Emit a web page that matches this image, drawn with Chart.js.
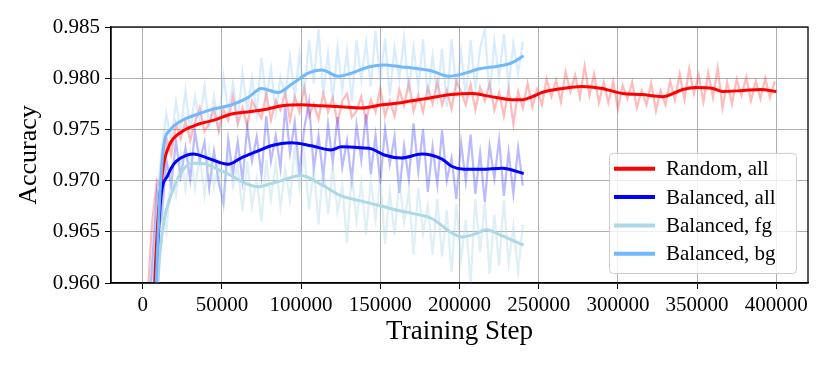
<!DOCTYPE html>
<html>
<head>
<meta charset="utf-8">
<script src="https://cdn.jsdelivr.net/npm/chart.js@4"></script>
<style>
  html, body { margin: 0; padding: 0; background: #fff; }
  #wrap { width: 830px; height: 366px; }
</style>
</head>
<body>
<div id="wrap"><canvas id="accChart" width="830" height="366"></canvas></div>
<script>
// axis ticks
var xTicks = [0, 50000, 100000, 150000, 200000, 250000, 300000, 350000, 400000];
var yTicks = [0.960, 0.965, 0.970, 0.975, 0.980, 0.985];

// raw (noisy) curves, one value every 3000 steps
var rawStep = 3000;
var redRaw = [0.944, 0.9585, 0.9660, 0.9700, 0.9690, 0.9742, 0.9725, 0.9756, 0.9741, 0.9758,
    0.9739, 0.9757, 0.9771, 0.9748, 0.9756, 0.9770, 0.9748, 0.9770, 0.9759, 0.9783,
    0.9755, 0.9771, 0.9753, 0.9778, 0.9769, 0.9761, 0.9785, 0.9759, 0.9778, 0.9769,
    0.9786, 0.9759, 0.9782, 0.9767, 0.9791, 0.9763, 0.9775, 0.9760, 0.9785, 0.9767,
    0.9781, 0.9756, 0.9778, 0.9785, 0.9762, 0.9768, 0.9782, 0.9758, 0.9779, 0.9767,
    0.9790, 0.9763, 0.9778, 0.9763, 0.9789, 0.9773, 0.9796, 0.9768, 0.9784, 0.9767,
    0.9791, 0.9775, 0.9797, 0.9774, 0.9788, 0.9770, 0.9797, 0.9787, 0.9774, 0.9794,
    0.9769, 0.9791, 0.9778, 0.9795, 0.9769, 0.9786, 0.9763, 0.9790, 0.9755, 0.9787,
    0.9771, 0.9795, 0.9772, 0.9789, 0.9774, 0.9799, 0.9782, 0.9798, 0.9777, 0.9806,
    0.9787, 0.9803, 0.9781, 0.9812, 0.9783, 0.9804, 0.9776, 0.9796, 0.9776, 0.9797,
    0.9770, 0.9793, 0.9780, 0.9796, 0.9771, 0.9788, 0.9774, 0.9795, 0.9768, 0.9788,
    0.9774, 0.9797, 0.9779, 0.9804, 0.9779, 0.9809, 0.9785, 0.9803, 0.9777, 0.9805,
    0.9781, 0.9810, 0.9771, 0.9796, 0.9775, 0.9799, 0.9783, 0.9801, 0.9778, 0.9797,
    0.9780, 0.9800, 0.9781, 0.9797];
var balAllRaw = [0.940, 0.9555, 0.9620, 0.9690, 0.9665, 0.9720, 0.9695, 0.9738, 0.9704, 0.9732,
    0.9701, 0.9748, 0.9719, 0.9738, 0.9693, 0.9729, 0.9698, 0.9678, 0.9740, 0.9706,
    0.9738, 0.9700, 0.9753, 0.9719, 0.9743, 0.9705, 0.9763, 0.9719, 0.9744, 0.9712,
    0.9772, 0.9727, 0.9757, 0.9706, 0.9751, 0.9777, 0.9711, 0.9744, 0.9703, 0.9755,
    0.9717, 0.9762, 0.9713, 0.9739, 0.9700, 0.9754, 0.9720, 0.9765, 0.9706, 0.9744,
    0.9697, 0.9751, 0.9716, 0.9743, 0.9688, 0.9734, 0.9701, 0.9756, 0.9709, 0.9750,
    0.9689, 0.9733, 0.9696, 0.9749, 0.9700, 0.9722, 0.9682, 0.9737, 0.9699, 0.9745,
    0.9687, 0.9727, 0.9679, 0.9734, 0.9702, 0.9740, 0.9685, 0.9728, 0.9687, 0.9732,
    0.9695];
var balFgRaw = [0.940, 0.9540, 0.9600, 0.9640, 0.9675, 0.9650, 0.9705, 0.9685, 0.9725, 0.9692,
    0.9728, 0.9692, 0.9725, 0.9686, 0.9730, 0.9694, 0.9716, 0.9676, 0.9726, 0.9694,
    0.9715, 0.9670, 0.9719, 0.9675, 0.9702, 0.9660, 0.9720, 0.9682, 0.9717, 0.9674,
    0.9711, 0.9681, 0.9734, 0.9693, 0.9726, 0.9672, 0.9713, 0.9657, 0.9715, 0.9667,
    0.9713, 0.9669, 0.9695, 0.9639, 0.9708, 0.9661, 0.9698, 0.9647, 0.9700, 0.9662,
    0.9703, 0.9638, 0.9689, 0.9647, 0.9700, 0.9660, 0.9689, 0.9628, 0.9693, 0.9648,
    0.9676, 0.9628, 0.9682, 0.9626, 0.9671, 0.9611, 0.9677, 0.9623, 0.9662, 0.9599,
    0.9682, 0.9630, 0.9678, 0.9609, 0.9667, 0.9617, 0.9681, 0.9619, 0.9655, 0.9611,
    0.9657];
var balBgRaw = [0.940, 0.9550, 0.9610, 0.9680, 0.9730, 0.9765, 0.9738, 0.9777, 0.9748, 0.9788,
    0.9748, 0.9782, 0.9757, 0.9792, 0.9753, 0.9782, 0.9751, 0.9802, 0.9767, 0.9795,
    0.9759, 0.9805, 0.9769, 0.9800, 0.9765, 0.9820, 0.9779, 0.9810, 0.9766, 0.9801,
    0.9782, 0.9821, 0.9781, 0.9824, 0.9783, 0.9837, 0.9795, 0.9848, 0.9784, 0.9824,
    0.9778, 0.9830, 0.9789, 0.9826, 0.9777, 0.9837, 0.9799, 0.9835, 0.9792, 0.9846,
    0.9797, 0.9839, 0.9783, 0.9830, 0.9799, 0.9839, 0.9786, 0.9830, 0.9791, 0.9838,
    0.9779, 0.9822, 0.9782, 0.9829, 0.9772, 0.9838, 0.9789, 0.9826, 0.9780, 0.9837,
    0.9790, 0.9829, 0.9848, 0.9783, 0.9836, 0.9800, 0.9843, 0.9792, 0.9834, 0.9805,
    0.9836];

// smoothed curves
var redSmoothSteps = [5000, 8000, 10000, 13000, 17000, 24000, 35000, 45000, 56000, 66000,
    79000, 88000, 100000, 113000, 125000, 138000, 151000, 163000, 170000, 182000,
    195000, 208000, 220000, 233000, 240000, 246000, 252000, 265000, 277000, 290000,
    303000, 315000, 328000, 341000, 349000, 360000, 366000, 379000, 390000, 400000];
var redSmooth = [0.950, 0.9615, 0.9670, 0.9714, 0.9735, 0.9747, 0.9755, 0.9759, 0.9765, 0.9767,
    0.9770, 0.9773, 0.9774, 0.9773, 0.9772, 0.9771, 0.9774, 0.9776, 0.9778, 0.9781,
    0.9784, 0.9785, 0.9782, 0.9779, 0.9779, 0.9782, 0.9786, 0.9790, 0.9792, 0.9790,
    0.9785, 0.9784, 0.9782, 0.9789, 0.9791, 0.9790, 0.9787, 0.9788, 0.9789, 0.9787];

var balAllSteps = [5000, 8500, 11400, 15800, 19600, 24000, 32000, 41000, 54000, 62000,
    73000, 81000, 94000, 106500, 119000, 125500, 138000, 144500, 152500, 163500,
    176000, 189000, 195000, 203000, 214000, 227000, 240500];
var balAllSmooth = [0.945, 0.9600, 0.9682, 0.9705, 0.9716, 0.9722, 0.9726, 0.9722, 0.9716, 0.9722,
    0.9729, 0.9734, 0.9737, 0.9734, 0.9730, 0.9733, 0.9732, 0.9731, 0.9725, 0.9722,
    0.9726, 0.9721, 0.9714, 0.9711, 0.9711, 0.9712, 0.9707];

var balFgSteps = [6000, 10000, 13300, 17700, 24000, 30400, 36700, 47500, 55700, 64000,
    73000, 81000, 87500, 100000, 113000, 125500, 138000, 151000, 163500, 170000,
    182500, 195000, 201500, 210000, 217000, 227000, 240500];
var balFgSmooth = [0.945, 0.9610, 0.9659, 0.9685, 0.9707, 0.9717, 0.9717, 0.9711, 0.9705, 0.9698,
    0.9694, 0.9697, 0.9700, 0.9705, 0.9696, 0.9685, 0.9680, 0.9675, 0.9670, 0.9668,
    0.9663, 0.9649, 0.9645, 0.9648, 0.9652, 0.9646, 0.9637];

var balBgSteps = [5000, 8500, 11000, 13300, 17700, 24000, 35000, 45000, 56000, 66500,
    75000, 85500, 94000, 104500, 113000, 123500, 132000, 142500, 152500, 163500,
    170000, 182500, 193000, 201500, 212000, 225000, 233000, 240500];
var balBgSmooth = [0.948, 0.9600, 0.9690, 0.9734, 0.9750, 0.9758, 0.9765, 0.9770, 0.9774, 0.9781,
    0.9790, 0.9786, 0.9794, 0.9805, 0.9808, 0.9802, 0.9805, 0.9811, 0.9813, 0.9811,
    0.9810, 0.9807, 0.9802, 0.9804, 0.9809, 0.9812, 0.9815, 0.9822];

var FONT = '"Liberation Serif", "Times New Roman", serif';

function rawPoints(values) {
    return values.map(function (v, i) { return { x: i * rawStep, y: v }; });
}

function pairPoints(steps, values) {
    return steps.map(function (s, i) { return { x: s, y: values[i] }; });
}

function rawSet(values, color, order) {
    return {
        data: rawPoints(values),
        borderColor: color,
        borderWidth: 2.2,
        pointRadius: 0,
        tension: 0,
        order: order
    };
}

function smoothSet(label, steps, values, color, order) {
    return {
        label: label,
        showInLegend: true,
        data: pairPoints(steps, values),
        borderColor: color,
        borderWidth: 3,
        pointRadius: 0,
        cubicInterpolationMode: 'monotone',
        order: order
    };
}

// box + sample lines inside the plot, like matplotlib's legend
var insetLegend = {
    id: 'insetLegend',
    afterDraw: function (chart) {
        var ctx = chart.ctx;
        var area = chart.chartArea;
        var items = chart.data.datasets.filter(function (d) { return d.showInLegend; });
        var boxW = 187, rowH = 28.3, boxH = rowH * items.length + 7;
        var right = area.right - 12, bottom = area.bottom - 10;
        var left = right - boxW, top = bottom - boxH;

        ctx.save();
        ctx.fillStyle = 'rgba(255,255,255,0.8)';
        ctx.strokeStyle = '#cccccc';
        ctx.lineWidth = 1;
        ctx.beginPath();
        ctx.roundRect(left + 0.5, top + 0.5, boxW, boxH, 4);
        ctx.fill();
        ctx.stroke();

        ctx.font = '21px ' + FONT;
        ctx.textBaseline = 'middle';
        ctx.fillStyle = '#000';
        items.forEach(function (d, i) {
            var y = top + 16 + i * rowH;
            ctx.strokeStyle = d.borderColor;
            ctx.lineWidth = 4;
            ctx.beginPath();
            ctx.moveTo(left + 5, y);
            ctx.lineTo(left + 46, y);
            ctx.stroke();
            ctx.fillText(d.label, left + 57, y + 1);
        });
        ctx.restore();
    }
};

// black frame on all four sides
var plotFrame = {
    id: 'plotFrame',
    afterDatasetsDraw: function (chart) {
        var ctx = chart.ctx;
        var a = chart.chartArea;
        ctx.save();
        ctx.strokeStyle = '#000';
        ctx.lineWidth = 1.3;
        ctx.strokeRect(a.left, a.top, a.right - a.left, a.bottom - a.top);
        ctx.restore();
    }
};

var canvas = document.getElementById('accChart');

new Chart(canvas, {
    type: 'line',
    data: {
        datasets: [
            smoothSet('Random, all', redSmoothSteps, redSmooth, '#ff0000', 3),
            smoothSet('Balanced, all', balAllSteps, balAllSmooth, '#0000ff', 2),
            smoothSet('Balanced, fg', balFgSteps, balFgSmooth, '#add8e6', 1),
            smoothSet('Balanced, bg', balBgSteps, balBgSmooth, '#72b8fd', 0),
            rawSet(redRaw, 'rgba(255, 0, 0, 0.27)', 7),
            rawSet(balAllRaw, 'rgba(0, 0, 255, 0.27)', 6),
            rawSet(balFgRaw, 'rgba(173, 216, 230, 0.4)', 5),
            rawSet(balBgRaw, 'rgba(114, 184, 253, 0.27)', 4)
        ]
    },
    options: {
        responsive: false,
        animation: false,
        layout: { padding: { top: 27, right: 22, left: 0, bottom: 0 } },
        plugins: {
            legend: { display: false },
            tooltip: { enabled: false }
        },
        scales: {
            x: {
                type: 'linear',
                min: -20000,
                max: 420000,
                afterBuildTicks: function (axis) {
                    axis.ticks = xTicks.map(function (v) { return { value: v }; });
                },
                afterFit: function (axis) { axis.height = 83; },
                ticks: {
                    color: '#000',
                    font: { family: FONT, size: 21 },
                    padding: 4,
                    maxRotation: 0,
                    autoSkip: false,
                    callback: function (v) { return String(v); }
                },
                grid: { color: '#b0b0b0', lineWidth: 1, tickColor: '#000', tickLength: 6 },
                border: { color: '#000', width: 1.3 },
                title: {
                    display: true,
                    text: 'Training Step',
                    color: '#000',
                    font: { family: FONT, size: 27 },
                    padding: { top: 0, bottom: 18 }
                }
            },
            y: {
                min: 0.960,
                max: 0.985,
                afterBuildTicks: function (axis) {
                    axis.ticks = yTicks.map(function (v) { return { value: v }; });
                },
                afterFit: function (axis) { axis.width = 111; },
                ticks: {
                    color: '#000',
                    font: { family: FONT, size: 21 },
                    padding: 5,
                    callback: function (v) { return v.toFixed(3); }
                },
                grid: { color: '#b0b0b0', lineWidth: 1, tickColor: '#000', tickLength: 6 },
                border: { color: '#000', width: 1.3 },
                title: {
                    display: true,
                    text: 'Accuracy',
                    color: '#000',
                    font: { family: FONT, size: 26 },
                    padding: { top: 14, bottom: 0 }
                }
            }
        }
    },
    plugins: [plotFrame, insetLegend]
});
</script>
</body>
</html>
